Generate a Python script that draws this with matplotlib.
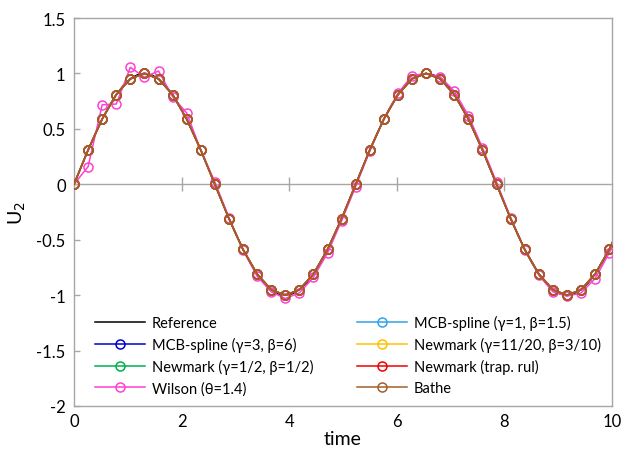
import numpy as np
import matplotlib
matplotlib.use("Agg")
import matplotlib.pyplot as plt

plt.rcParams['font.family'] = ['Lato', 'DejaVu Sans']

# ---- data ----
dt_ref = 0.1309
dt = 0.2618

reference = [0, 0.156, 0.309, 0.454, 0.588, 0.707, 0.809, 0.891, 0.951, 0.988,
             1.0, 0.988, 0.951, 0.891, 0.809, 0.707, 0.588, 0.454, 0.309, 0.156,
             0, -0.156, -0.309, -0.454, -0.588, -0.707, -0.809, -0.891, -0.951, -0.988,
             -1.0, -0.988, -0.951, -0.891, -0.809, -0.707, -0.588, -0.454, -0.309, -0.156,
             0, 0.156, 0.309, 0.454, 0.588, 0.707, 0.809, 0.891, 0.951, 0.988,
             1.0, 0.988, 0.951, 0.891, 0.809, 0.707, 0.588, 0.454, 0.309, 0.156,
             0, -0.156, -0.309, -0.454, -0.588, -0.707, -0.809, -0.891, -0.951, -0.988,
             -1.0, -0.988, -0.951, -0.891, -0.809, -0.707, -0.588, -0.454]

mcb_3_6 = [0, 0.309, 0.588, 0.809, 0.951, 1.0, 0.951, 0.809, 0.588, 0.309,
           0, -0.309, -0.588, -0.809, -0.951, -1.0, -0.951, -0.809, -0.588, -0.309,
           0, 0.309, 0.588, 0.809, 0.951, 1.0, 0.951, 0.809, 0.588, 0.309,
           0, -0.309, -0.588, -0.809, -0.951, -1.0, -0.951, -0.809, -0.588, -0.309]
newmark_half = [0, 0.309, 0.588, 0.809, 0.951, 1.0, 0.951, 0.809, 0.588, 0.309,
                0, -0.309, -0.588, -0.809, -0.951, -1.0, -0.951, -0.809, -0.588, -0.309,
                0, 0.309, 0.588, 0.809, 0.951, 1.0, 0.951, 0.809, 0.588, 0.309,
                0, -0.309, -0.588, -0.809, -0.951, -1.0, -0.951, -0.809, -0.588, -0.309]
wilson = [0, 0.159, 0.717, 0.724, 1.055, 0.966, 1.022, 0.79, 0.643, 0.31,
          0.02, -0.30, -0.59, -0.83, -0.97, -1.03, -0.98, -0.84, -0.62, -0.33,
          -0.02, 0.30, 0.59, 0.82, 0.98, 1.0, 0.97, 0.84, 0.62, 0.33,
          0.02, -0.30, -0.59, -0.82, -0.97, -1.01, -0.98, -0.85, -0.62, -0.34]
mcb_1_15 = [0, 0.309, 0.588, 0.809, 0.951, 1.0, 0.951, 0.809, 0.588, 0.309,
            0, -0.309, -0.588, -0.809, -0.951, -1.0, -0.951, -0.809, -0.588, -0.309,
            0, 0.309, 0.588, 0.809, 0.951, 1.0, 0.951, 0.809, 0.588, 0.309,
            0, -0.309, -0.588, -0.809, -0.951, -1.0, -0.951, -0.809, -0.588, -0.309]
newmark_11_20 = [0, 0.309, 0.588, 0.809, 0.951, 1.0, 0.951, 0.809, 0.588, 0.309,
                 0, -0.309, -0.588, -0.809, -0.951, -1.0, -0.951, -0.809, -0.588, -0.309,
                 0, 0.309, 0.588, 0.809, 0.951, 1.0, 0.951, 0.809, 0.588, 0.309,
                 0, -0.309, -0.588, -0.809, -0.951, -1.0, -0.951, -0.809, -0.588, -0.309]
newmark_trap = [0, 0.309, 0.588, 0.809, 0.951, 1.0, 0.951, 0.809, 0.588, 0.309,
                0, -0.309, -0.588, -0.809, -0.951, -1.0, -0.951, -0.809, -0.588, -0.309,
                0, 0.309, 0.588, 0.809, 0.951, 1.0, 0.951, 0.809, 0.588, 0.309,
                0, -0.309, -0.588, -0.809, -0.951, -1.0, -0.951, -0.809, -0.588, -0.309]
bathe = [0, 0.309, 0.588, 0.809, 0.951, 1.0, 0.951, 0.809, 0.588, 0.309,
         0, -0.309, -0.588, -0.809, -0.951, -1.0, -0.951, -0.809, -0.588, -0.309,
         0, 0.309, 0.588, 0.809, 0.951, 1.0, 0.951, 0.809, 0.588, 0.309,
         0, -0.309, -0.588, -0.809, -0.951, -1.0, -0.951, -0.809, -0.588, -0.309]

labels = ["Reference", "MCB-spline (γ=3, β=6)", "Newmark (γ=1/2, β=1/2)", "Wilson (θ=1.4)",
          "MCB-spline (γ=1, β=1.5)", "Newmark (γ=11/20, β=3/10)", "Newmark (trap. rul)", "Bathe"]
colors = ["#000000", "#0000CC", "#00B050", "#FF40D0", "#33A3E8", "#FFC000", "#F00000", "#A0602C"]
x_ticks = [0, 2, 4, 6, 8, 10]
y_ticks = [-2, -1.5, -1, -0.5, 0, 0.5, 1, 1.5]
y_tick_labels = ["-2", "-1.5", "-1", "-0.5", "0", "0.5", "1", "1.5"]

# ---- figure ----
fig = plt.figure(figsize=(6.27, 4.52), dpi=100)
W, H = 627, 452
L, R, T, B = 74, 612, 19, 407
ax = fig.add_axes([L / W, 1 - B / H, (R - L) / W, (B - T) / H])

t_ref = np.arange(len(reference)) * dt_ref
t_pts = np.arange(len(bathe)) * dt

series = [mcb_3_6, newmark_half, wilson, mcb_1_15, newmark_11_20, newmark_trap, bathe]
handles = []
h, = ax.plot(t_ref, reference, color=colors[0], lw=1.1, label=labels[0], zorder=2)
handles.append(h)
for i, s in enumerate(series):
    h, = ax.plot(t_pts, s, color=colors[i + 1], lw=1.1, marker='o', markersize=6.5,
                 markerfacecolor='none', markeredgewidth=1.1, label=labels[i + 1], zorder=3 + i)
    handles.append(h)

ax.set_xlim(0, 10)
ax.set_ylim(-2, 1.5)
ax.set_xticks(x_ticks)
ax.set_yticks(y_ticks)
ax.set_yticklabels(y_tick_labels)
ax.tick_params(axis='x', length=0, pad=5, labelsize=12, labelcolor='#000000')
ax.tick_params(axis='y', direction='in', length=4, width=1, color='#A6A6A6', pad=6,
               labelsize=12, labelcolor='#000000')
for sp in ax.spines.values():
    sp.set_color('#A6A6A6')
    sp.set_linewidth(1.0)

# horizontal axis line at y=0 with cross ticks
sec = ax.secondary_xaxis(2 / 3.5)
sec.set_xticks([2, 4, 6, 8])
sec.tick_params(axis='x', direction='inout', length=10, width=1, color='#A6A6A6',
                labelbottom=False, labeltop=False)
sec.spines['bottom'].set_color('#A6A6A6')
sec.spines['bottom'].set_linewidth(1.0)
sec.spines['top'].set_color('#A6A6A6')
sec.spines['top'].set_linewidth(1.0)

ax.set_xlabel("time", fontsize=14, labelpad=1)
ax.set_ylabel("U$_2$", fontsize=14, labelpad=6)

leg = fig.legend(handles, labels, ncol=2,
                 loc='upper left', bbox_to_anchor=(95 / W, 1 - 316 / H), frameon=False,
                 fontsize=10.5, handlelength=3.4, handletextpad=0.5, columnspacing=3.0,
                 labelspacing=0.48, borderpad=0, borderaxespad=0)

fig.savefig("out.png", dpi=100)
